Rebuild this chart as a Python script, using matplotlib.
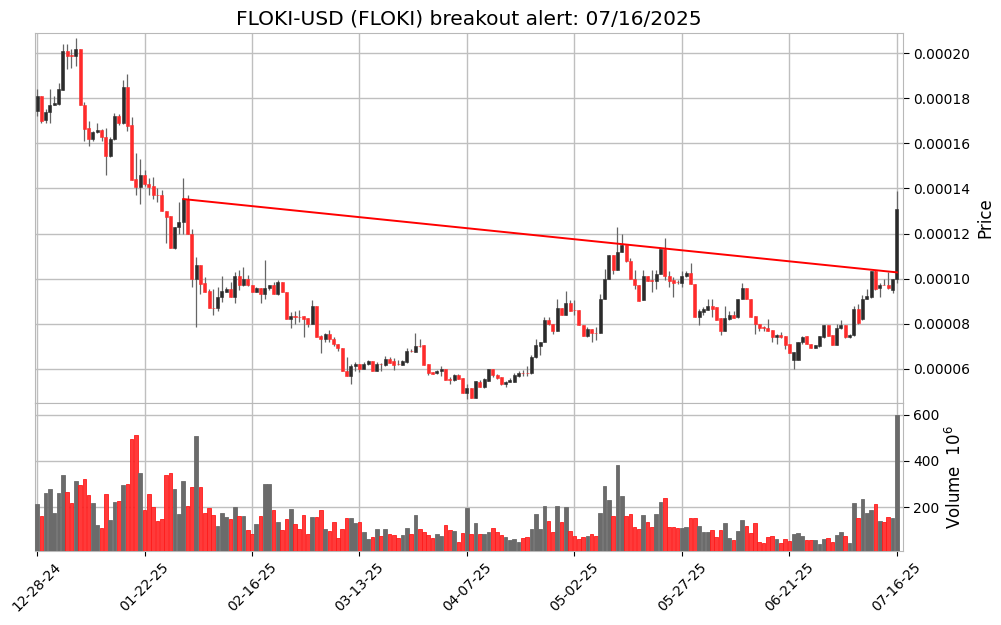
import numpy as np
import pandas as pd
import matplotlib
matplotlib.use("Agg")
import matplotlib.pyplot as plt
from matplotlib.patches import Rectangle

# ---------------------------------------------------------------- data
# daily candles, prices in units of 1e-5 USD
dates = pd.date_range("2024-12-28", "2025-07-16", freq="D")

opens = [
    17.44, 18.11, 17.03, 17.37, 17.68, 17.76, 18.37, 20.10, 19.90, 19.85,
    20.18, 17.70, 16.69, 16.17, 16.50, 16.60, 16.29, 15.44, 16.20, 17.22,
    16.88, 18.50, 16.82, 14.42, 14.08, 14.60, 14.20, 14.10, 13.72, 13.70,
    13.00, 12.78, 11.37, 12.30, 12.52, 13.53, 12.00, 10.00, 10.62, 9.82,
    9.44, 8.72, 8.70, 9.19, 9.41, 9.53, 9.19, 10.13, 9.72, 10.00,
    9.73, 9.41, 9.60, 9.33, 9.60, 9.73, 9.33, 9.84, 9.41, 8.21,
    8.33, 8.31, 8.33, 8.24, 7.97, 8.81, 7.44, 7.33, 7.53, 7.33,
    7.11, 6.93, 5.93, 5.70, 6.12, 6.24, 5.99, 6.22, 6.33, 5.93,
    6.23, 6.19, 6.43, 6.34, 6.22, 6.19, 6.30, 6.81, 6.77, 7.02,
    7.04, 6.22, 5.87, 5.81, 5.90, 6.01, 5.54, 5.51, 5.75, 5.60,
    4.93, 5.14, 4.70, 5.44, 5.19, 5.48, 6.00, 5.73, 5.63, 5.33,
    5.44, 5.44, 5.70, 5.84, 5.83, 5.81, 6.52, 7.02, 7.21, 8.15,
    8.00, 7.70, 8.71, 8.37, 8.93, 8.62, 8.62, 7.93, 7.48, 7.75,
    7.60, 7.60, 9.11, 9.97, 11.04, 10.39, 11.19, 11.51, 10.77, 10.00,
    9.73, 9.04, 10.12, 9.92, 9.90, 10.22, 11.30, 10.10, 9.93, 9.87,
    9.80, 10.12, 10.25, 9.75, 8.30, 8.52, 8.62, 8.80, 8.74, 8.25,
    7.70, 8.22, 8.41, 8.30, 9.11, 9.60, 9.11, 8.33, 8.00, 7.85,
    7.83, 7.73, 7.41, 7.52, 7.44, 7.11, 6.40, 6.40, 7.19, 7.44,
    7.11, 6.92, 7.01, 7.41, 7.93, 7.52, 7.08, 7.81, 7.93, 7.41,
    7.51, 8.64, 8.22, 9.11, 9.19, 10.34, 9.60, 9.74, 9.73, 9.50,
    9.97,
]
highs = [
    18.40, 18.11, 17.52, 18.40, 18.09, 18.67, 20.40, 20.40, 20.18, 20.66,
    20.18, 17.85, 17.00, 16.55, 16.90, 16.62, 16.67, 16.29, 17.34, 17.30,
    18.80, 19.07, 17.17, 15.59, 15.30, 14.81, 14.47, 14.51, 14.00, 13.92,
    13.00, 12.78, 12.30, 13.40, 14.46, 13.73, 12.20, 10.96, 10.62, 10.07,
    9.56, 9.56, 9.63, 10.12, 9.63, 9.85, 10.30, 10.37, 10.52, 10.15,
    9.73, 9.63, 9.60, 10.81, 9.73, 9.85, 9.96, 9.84, 9.41, 8.52,
    8.56, 8.62, 8.33, 8.24, 9.04, 8.81, 7.51, 7.59, 7.73, 7.41,
    7.11, 6.93, 6.55, 6.24, 6.30, 6.24, 6.30, 6.40, 6.33, 6.30,
    6.27, 6.56, 6.55, 6.49, 6.40, 6.40, 6.93, 6.88, 7.61, 7.33,
    7.04, 6.22, 5.87, 5.96, 6.11, 6.01, 5.63, 5.78, 5.78, 5.60,
    5.33, 5.14, 5.48, 5.50, 5.62, 6.00, 6.00, 5.76, 5.63, 5.48,
    5.58, 5.80, 5.93, 5.96, 6.11, 6.60, 7.33, 7.21, 8.30, 8.30,
    8.00, 9.11, 8.71, 9.44, 9.04, 9.04, 8.62, 7.93, 7.85, 7.78,
    7.85, 9.33, 10.41, 11.04, 11.04, 12.30, 11.96, 11.51, 10.93, 10.40,
    9.73, 10.40, 10.12, 10.40, 10.40, 11.30, 11.80, 10.33, 10.07, 9.93,
    10.33, 10.33, 10.70, 9.75, 8.67, 8.74, 9.11, 9.11, 8.74, 8.25,
    8.80, 8.59, 8.59, 9.11, 9.81, 9.60, 9.11, 8.33, 8.00, 7.89,
    8.22, 7.73, 7.56, 7.63, 7.44, 7.11, 6.74, 7.19, 7.48, 7.48,
    7.11, 7.04, 7.48, 7.93, 7.93, 7.52, 8.00, 8.15, 7.93, 7.56,
    8.77, 8.86, 9.28, 9.56, 10.34, 10.37, 9.81, 10.00, 10.30, 10.00,
    13.88,
]
lows = [
    17.20, 16.90, 16.88, 16.92, 17.68, 17.70, 18.35, 19.30, 19.33, 19.44,
    17.68, 16.10, 15.87, 16.11, 16.47, 16.11, 14.58, 15.40, 16.15, 16.82,
    16.85, 16.55, 14.39, 13.70, 13.30, 14.12, 13.70, 13.55, 13.40, 13.00,
    11.60, 11.37, 11.30, 11.96, 12.00, 11.96, 9.63, 7.85, 9.33, 9.41,
    8.70, 8.37, 8.59, 8.96, 9.41, 9.19, 8.92, 9.48, 9.66, 9.66,
    9.41, 9.41, 8.93, 9.11, 9.48, 9.33, 9.29, 9.41, 8.22, 7.82,
    8.00, 8.07, 7.41, 7.85, 7.97, 7.41, 6.71, 7.21, 7.20, 7.00,
    6.81, 5.90, 5.70, 5.33, 5.93, 5.85, 5.99, 6.19, 5.93, 5.90,
    5.90, 6.15, 6.25, 5.96, 6.19, 6.19, 6.27, 6.75, 6.75, 6.99,
    6.19, 5.74, 5.78, 5.78, 5.70, 5.51, 5.33, 5.48, 5.56, 4.92,
    4.67, 4.70, 4.70, 5.19, 5.15, 5.45, 5.63, 5.56, 5.30, 5.22,
    5.40, 5.40, 5.66, 5.70, 5.70, 5.78, 6.50, 6.60, 7.19, 7.93,
    7.55, 7.67, 8.37, 8.37, 8.59, 8.37, 7.93, 7.48, 7.41, 7.19,
    7.30, 7.60, 9.08, 9.97, 10.22, 10.37, 11.19, 10.74, 9.97, 9.56,
    9.01, 9.04, 9.90, 9.40, 9.56, 10.19, 9.93, 9.63, 9.19, 9.78,
    9.63, 10.07, 9.75, 8.30, 7.93, 8.37, 8.60, 8.30, 8.18, 7.51,
    7.70, 8.15, 8.27, 8.27, 9.08, 9.08, 8.30, 7.53, 7.67, 7.67,
    7.70, 7.19, 7.11, 7.37, 6.89, 6.70, 6.00, 6.40, 7.11, 7.11,
    6.92, 6.92, 6.96, 7.37, 7.48, 7.08, 7.08, 7.78, 7.37, 7.37,
    7.48, 8.00, 8.19, 9.08, 9.16, 9.50, 9.19, 9.70, 9.55, 9.36,
    9.82,
]
closes = [
    18.11, 16.97, 17.40, 17.70, 17.80, 18.40, 20.10, 19.85, 19.86, 20.18,
    17.68, 16.64, 16.17, 16.50, 16.60, 16.26, 15.44, 16.20, 17.22, 16.88,
    18.50, 16.79, 14.39, 14.08, 14.60, 14.19, 14.08, 13.70, 13.70, 13.00,
    12.75, 11.37, 12.30, 12.52, 13.53, 12.00, 10.00, 10.62, 9.78, 9.41,
    8.70, 8.70, 9.20, 9.44, 9.53, 9.19, 10.13, 9.72, 10.00, 9.73,
    9.41, 9.60, 9.33, 9.60, 9.73, 9.33, 9.84, 9.41, 8.22, 8.33,
    8.31, 8.30, 8.21, 8.00, 8.81, 7.41, 7.33, 7.53, 7.33, 7.11,
    6.92, 5.90, 5.70, 6.15, 6.24, 5.99, 6.24, 6.33, 5.93, 6.22,
    6.22, 6.43, 6.28, 6.19, 6.20, 6.34, 6.81, 6.79, 7.02, 7.00,
    6.19, 5.81, 5.78, 5.93, 6.01, 5.51, 5.52, 5.75, 5.56, 4.92,
    5.14, 4.70, 5.48, 5.19, 5.56, 6.00, 5.73, 5.59, 5.33, 5.44,
    5.51, 5.75, 5.84, 5.82, 5.82, 6.55, 7.04, 7.21, 8.15, 7.97,
    7.70, 8.71, 8.37, 8.92, 8.59, 8.60, 7.93, 7.48, 7.75, 7.59,
    7.58, 9.11, 9.97, 11.04, 10.39, 11.19, 11.51, 10.77, 9.97, 9.70,
    9.01, 10.12, 9.90, 9.90, 10.22, 11.30, 10.10, 9.90, 9.80, 9.85,
    10.12, 10.25, 9.75, 8.30, 8.55, 8.64, 8.80, 8.67, 8.18, 7.70,
    8.25, 8.41, 8.27, 9.11, 9.60, 9.11, 8.30, 7.97, 7.81, 7.83,
    7.70, 7.41, 7.51, 7.41, 7.08, 6.70, 6.74, 7.19, 7.41, 7.11,
    6.92, 7.04, 7.44, 7.93, 7.48, 7.08, 7.82, 7.93, 7.41, 7.52,
    8.64, 8.03, 9.11, 9.23, 10.34, 9.55, 9.73, 9.73, 9.60, 10.00,
    13.07,
]
# volume in millions
volumes = [
    214, 162, 262, 280, 175, 262, 340, 267, 219, 314,
    297, 323, 254, 219, 123, 110, 258, 145, 223, 227,
    297, 301, 497, 514, 349, 188, 258, 201, 141, 149,
    340, 349, 280, 171, 314, 206, 288, 506, 288, 175,
    197, 167, 119, 175, 158, 149, 201, 162, 162, 101,
    84, 128, 162, 301, 301, 188, 136, 101, 149, 193,
    128, 106, 167, 84, 158, 158, 188, 106, 97, 136,
    67, 106, 154, 154, 132, 136, 93, 62, 71, 106,
    75, 106, 84, 80, 67, 80, 110, 84, 167, 106,
    93, 80, 67, 84, 75, 123, 101, 97, 49, 88,
    197, 84, 132, 84, 84, 93, 110, 93, 80, 71,
    58, 62, 49, 67, 71, 106, 171, 106, 206, 141,
    93, 206, 136, 201, 97, 75, 62, 71, 75, 84,
    75, 175, 293, 232, 162, 384, 249, 162, 171, 114,
    106, 167, 136, 114, 171, 223, 241, 114, 114, 110,
    110, 114, 154, 154, 119, 93, 93, 101, 71, 101,
    132, 67, 58, 97, 145, 119, 88, 132, 49, 45,
    71, 75, 62, 45, 62, 54, 84, 88, 75, 58,
    58, 58, 41, 62, 67, 49, 80, 93, 75, 45,
    219, 154, 236, 175, 188, 214, 141, 136, 158, 154,
    597,
]

# breakout trend line: (candle index, price) at both ends
trend_idx = [34, 200]
trend_price = [13.53, 10.28]

title = "FLOKI-USD (FLOKI) breakout alert: 07/16/2025"
tick_step = 25

# ---------------------------------------------------------------- plot
scale = 1e-5
o = np.array(opens) * scale
h = np.array(highs) * scale
l = np.array(lows) * scale
c = np.array(closes) * scale
v = np.array(volumes, dtype=float)
x = np.arange(len(dates))
up = c >= o

up_col, dn_col = "#2b2b2b", "#ff2b2b"
vol_up, vol_dn = "#6b6b6b", "#ff3a3a"
grid_col = "#bfbfbf"

fig = plt.figure(figsize=(10.01, 6.25), dpi=100)
ax = fig.add_axes([0.035, 0.3552, 0.867, 0.592])
axv = fig.add_axes([0.035, 0.1192, 0.867, 0.236], sharex=ax)

# candles
w = 0.7
ax.vlines(x, l, h, colors="#666666", linewidth=0.9, zorder=2)
for i in range(len(x)):
    bottom = min(o[i], c[i])
    height = max(abs(c[i] - o[i]), 0.012 * scale)
    ax.add_patch(Rectangle((x[i] - w / 2, bottom), w, height,
                           facecolor=up_col if up[i] else dn_col,
                           edgecolor=up_col if up[i] else dn_col,
                           linewidth=0.4, zorder=3))

ax.plot(trend_idx, np.array(trend_price) * scale, color="red", linewidth=1.4, zorder=4)

# volume
axv.bar(x, v, width=0.85, color=np.where(up, vol_up, vol_dn),
        edgecolor=np.where(up, vol_up, "#ff1a1a"), linewidth=0.6, zorder=3)

ax.set_xlim(-0.47, 201.4)
ax.set_ylim(4.49 * scale, 20.89 * scale)
ax.set_yticks(np.arange(6, 21, 2) * scale)
ax.yaxis.set_major_formatter(matplotlib.ticker.FormatStrFormatter("%.5f"))
axv.set_ylim(0.3 * v.min(), 1.09 * v.max())
axv.set_yticks([200, 400, 600])

for a in (ax, axv):
    a.grid(True, color=grid_col, linewidth=1.0, zorder=0)
    a.set_axisbelow(True)
    a.yaxis.tick_right()
    a.yaxis.set_label_position("right")
    a.tick_params(axis="y", labelsize=10, length=4)
    for s in a.spines.values():
        s.set_color("#b8b8b8")

ax.tick_params(axis="x", labelbottom=False, length=0)
ticks = x[::tick_step]
axv.set_xticks(ticks)
axv.set_xticklabels([d.strftime("%m-%d-%y") for d in dates[::tick_step]],
                    rotation=45, fontsize=10)

ax.set_ylabel("Price", fontsize=12)
axv.set_ylabel("Volume  $10^{6}$", fontsize=12)
ax.set_title(title, fontsize=14.5, pad=6)

fig.savefig("out.png", dpi=100)
